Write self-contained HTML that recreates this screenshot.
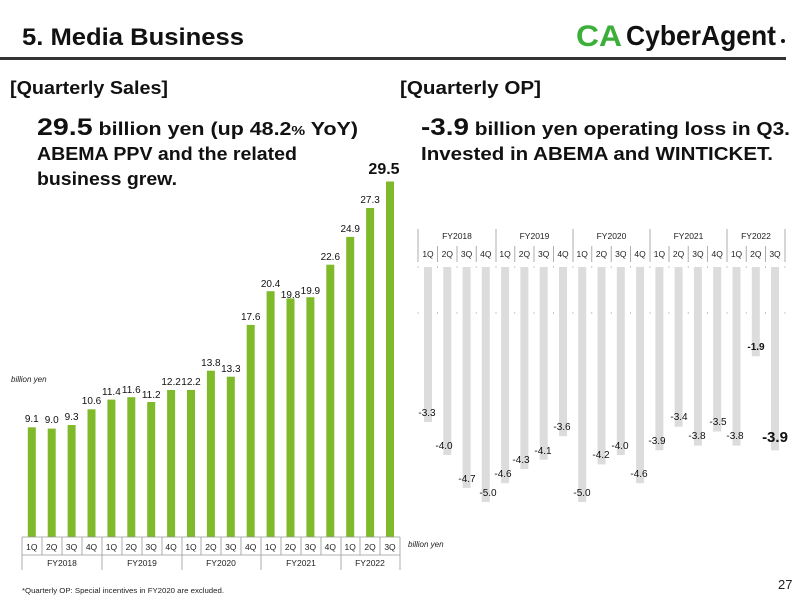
<!DOCTYPE html>
<html><head><meta charset="utf-8"><style>
html,body{margin:0;padding:0;background:#fff;}
svg{display:block;font-family:"Liberation Sans",sans-serif;}
</style></head><body>
<svg width="800" height="600" viewBox="0 0 800 600" xmlns="http://www.w3.org/2000/svg">
<rect width="800" height="600" fill="#fff"/>
<!-- header -->
<text x="22" y="45" font-size="24" font-weight="bold" fill="#111" textLength="222" lengthAdjust="spacingAndGlyphs">5. Media Business</text>
<rect x="0" y="57" width="786" height="3" fill="#333"/>
<text x="576" y="46" font-size="30" font-weight="bold" fill="#3cae3a" textLength="46" lengthAdjust="spacingAndGlyphs">CA</text>
<text x="626" y="45" font-size="28" font-weight="bold" fill="#111" textLength="150" lengthAdjust="spacingAndGlyphs">CyberAgent</text>
<circle cx="783" cy="41" r="2" fill="#111"/>
<!-- section titles -->
<text x="10" y="94" font-size="18" font-weight="bold" fill="#111" textLength="158" lengthAdjust="spacingAndGlyphs">[Quarterly Sales]</text>
<text x="400" y="94" font-size="18" font-weight="bold" fill="#111" textLength="141" lengthAdjust="spacingAndGlyphs">[Quarterly OP]</text>
<text x="37" y="135" font-weight="bold" fill="#111" textLength="321" lengthAdjust="spacingAndGlyphs"><tspan font-size="24">29.5</tspan><tspan font-size="18"> billion yen (up 48.2</tspan><tspan font-size="13">%</tspan><tspan font-size="18"> YoY)</tspan></text>
<text x="37" y="160" font-size="18" font-weight="bold" fill="#111" textLength="260" lengthAdjust="spacingAndGlyphs">ABEMA PPV and the related</text>
<text x="37" y="185" font-size="18" font-weight="bold" fill="#111" textLength="140" lengthAdjust="spacingAndGlyphs">business grew.</text>
<text x="421" y="135" font-weight="bold" fill="#111" textLength="369" lengthAdjust="spacingAndGlyphs"><tspan font-size="24">-3.9</tspan><tspan font-size="18"> billion yen operating loss in Q3.</tspan></text>
<text x="421" y="160" font-size="18" font-weight="bold" fill="#111" textLength="352" lengthAdjust="spacingAndGlyphs">Invested in ABEMA and WINTICKET.</text>

<!-- LEFT CHART -->
<g fill="#7fba2a">
<rect x="27.8" y="427.3" width="8" height="109.7"/>
<rect x="47.7" y="428.6" width="8" height="108.4"/>
<rect x="67.6" y="425.0" width="8" height="112"/>
<rect x="87.5" y="409.3" width="8" height="127.7"/>
<rect x="107.4" y="399.6" width="8" height="137.4"/>
<rect x="127.3" y="397.2" width="8" height="139.8"/>
<rect x="147.2" y="402.0" width="8" height="135"/>
<rect x="167.1" y="390.0" width="8" height="147"/>
<rect x="187.0" y="390.0" width="8" height="147"/>
<rect x="206.9" y="370.7" width="8" height="166.3"/>
<rect x="226.8" y="376.7" width="8" height="160.3"/>
<rect x="246.7" y="324.9" width="8" height="212.1"/>
<rect x="266.6" y="291.2" width="8" height="245.8"/>
<rect x="286.5" y="298.4" width="8" height="238.6"/>
<rect x="306.4" y="297.2" width="8" height="239.8"/>
<rect x="326.3" y="264.7" width="8" height="272.3"/>
<rect x="346.2" y="236.9" width="8" height="300.1"/>
<rect x="366.1" y="208.0" width="8" height="329"/>
<rect x="386.0" y="181.5" width="8" height="355.5"/>
</g>
<g font-size="10" fill="#111" text-anchor="middle">
<text x="31.8" y="422">9.1</text>
<text x="51.7" y="423">9.0</text>
<text x="71.6" y="420">9.3</text>
<text x="91.5" y="404">10.6</text>
<text x="111.4" y="395">11.4</text>
<text x="131.3" y="393">11.6</text>
<text x="151.2" y="398">11.2</text>
<text x="171.1" y="385">12.2</text>
<text x="191.0" y="385">12.2</text>
<text x="210.9" y="366">13.8</text>
<text x="230.8" y="372">13.3</text>
<text x="250.7" y="320">17.6</text>
<text x="270.6" y="287">20.4</text>
<text x="290.5" y="298">19.8</text>
<text x="310.4" y="294">19.9</text>
<text x="330.3" y="260">22.6</text>
<text x="350.2" y="232">24.9</text>
<text x="370.1" y="203">27.3</text>
<text x="384" y="174" font-size="16" font-weight="bold">29.5</text>
</g>
<text x="11" y="382" font-size="8" font-style="italic" fill="#222">billion yen</text>
<!-- left axis table -->
<g stroke="#999" stroke-width="0.8">
<line x1="22" y1="537" x2="400" y2="537"/>
<line x1="22" y1="537" x2="22" y2="570"/>
<line x1="102" y1="537" x2="102" y2="570"/>
<line x1="182" y1="537" x2="182" y2="570"/>
<line x1="261" y1="537" x2="261" y2="570"/>
<line x1="341" y1="537" x2="341" y2="570"/>
<line x1="400" y1="537" x2="400" y2="570"/>
<line x1="22" y1="555" x2="400" y2="555"/>
<line x1="42" y1="537" x2="42" y2="555"/><line x1="62" y1="537" x2="62" y2="555"/><line x1="82" y1="537" x2="82" y2="555"/>
<line x1="122" y1="537" x2="122" y2="555"/><line x1="142" y1="537" x2="142" y2="555"/><line x1="162" y1="537" x2="162" y2="555"/>
<line x1="201" y1="537" x2="201" y2="555"/><line x1="221" y1="537" x2="221" y2="555"/><line x1="241" y1="537" x2="241" y2="555"/>
<line x1="281" y1="537" x2="281" y2="555"/><line x1="301" y1="537" x2="301" y2="555"/><line x1="321" y1="537" x2="321" y2="555"/>
<line x1="360" y1="537" x2="360" y2="555"/><line x1="380" y1="537" x2="380" y2="555"/>
</g>
<g font-size="8.5" fill="#222" text-anchor="middle">
<text x="31.8" y="550">1Q</text><text x="51.7" y="550">2Q</text><text x="71.6" y="550">3Q</text><text x="91.5" y="550">4Q</text>
<text x="111.4" y="550">1Q</text><text x="131.3" y="550">2Q</text><text x="151.2" y="550">3Q</text><text x="171.1" y="550">4Q</text>
<text x="191.0" y="550">1Q</text><text x="210.9" y="550">2Q</text><text x="230.8" y="550">3Q</text><text x="250.7" y="550">4Q</text>
<text x="270.6" y="550">1Q</text><text x="290.5" y="550">2Q</text><text x="310.4" y="550">3Q</text><text x="330.3" y="550">4Q</text>
<text x="350.2" y="550">1Q</text><text x="370.1" y="550">2Q</text><text x="390.0" y="550">3Q</text>
<text x="62" y="566">FY2018</text><text x="142" y="566">FY2019</text><text x="221" y="566">FY2020</text><text x="301" y="566">FY2021</text><text x="370" y="566">FY2022</text>
</g>

<!-- RIGHT CHART -->
<g stroke="#999" stroke-width="0.8">
<line x1="418" y1="229" x2="418" y2="262"/>
<line x1="496" y1="229" x2="496" y2="262"/>
<line x1="573" y1="229" x2="573" y2="262"/>
<line x1="650" y1="229" x2="650" y2="262"/>
<line x1="727" y1="229" x2="727" y2="262"/>
<line x1="785" y1="229" x2="785" y2="262"/>
<line x1="437.6" y1="246" x2="437.6" y2="262"/><line x1="457" y1="246" x2="457" y2="262"/><line x1="476.2" y1="246" x2="476.2" y2="262"/>
<line x1="514.8" y1="246" x2="514.8" y2="262"/><line x1="534" y1="246" x2="534" y2="262"/><line x1="553.4" y1="246" x2="553.4" y2="262"/>
<line x1="591.8" y1="246" x2="591.8" y2="262"/><line x1="611.2" y1="246" x2="611.2" y2="262"/><line x1="630.4" y1="246" x2="630.4" y2="262"/>
<line x1="669" y1="246" x2="669" y2="262"/><line x1="688.2" y1="246" x2="688.2" y2="262"/><line x1="707.6" y1="246" x2="707.6" y2="262"/>
<line x1="746.2" y1="246" x2="746.2" y2="262"/><line x1="765.4" y1="246" x2="765.4" y2="262"/>
</g>
<g stroke="#bbb" stroke-width="0.8">
<line x1="418" y1="266" x2="418" y2="268"/><line x1="437.6" y1="266" x2="437.6" y2="268"/><line x1="457" y1="266" x2="457" y2="268"/><line x1="476.2" y1="266" x2="476.2" y2="268"/><line x1="496" y1="266" x2="496" y2="268"/><line x1="514.8" y1="266" x2="514.8" y2="268"/><line x1="534" y1="266" x2="534" y2="268"/><line x1="553.4" y1="266" x2="553.4" y2="268"/><line x1="573" y1="266" x2="573" y2="268"/><line x1="591.8" y1="266" x2="591.8" y2="268"/><line x1="611.2" y1="266" x2="611.2" y2="268"/><line x1="630.4" y1="266" x2="630.4" y2="268"/><line x1="650" y1="266" x2="650" y2="268"/><line x1="669" y1="266" x2="669" y2="268"/><line x1="688.2" y1="266" x2="688.2" y2="268"/><line x1="707.6" y1="266" x2="707.6" y2="268"/><line x1="727" y1="266" x2="727" y2="268"/><line x1="746.2" y1="266" x2="746.2" y2="268"/><line x1="765.4" y1="266" x2="765.4" y2="268"/><line x1="785" y1="266" x2="785" y2="268"/>
<line x1="418" y1="312" x2="418" y2="314"/><line x1="437.6" y1="312" x2="437.6" y2="314"/><line x1="457" y1="312" x2="457" y2="314"/><line x1="476.2" y1="312" x2="476.2" y2="314"/><line x1="496" y1="312" x2="496" y2="314"/><line x1="514.8" y1="312" x2="514.8" y2="314"/><line x1="534" y1="312" x2="534" y2="314"/><line x1="553.4" y1="312" x2="553.4" y2="314"/><line x1="573" y1="312" x2="573" y2="314"/><line x1="591.8" y1="312" x2="591.8" y2="314"/><line x1="611.2" y1="312" x2="611.2" y2="314"/><line x1="630.4" y1="312" x2="630.4" y2="314"/><line x1="650" y1="312" x2="650" y2="314"/><line x1="669" y1="312" x2="669" y2="314"/><line x1="688.2" y1="312" x2="688.2" y2="314"/><line x1="707.6" y1="312" x2="707.6" y2="314"/><line x1="727" y1="312" x2="727" y2="314"/><line x1="746.2" y1="312" x2="746.2" y2="314"/><line x1="765.4" y1="312" x2="765.4" y2="314"/><line x1="785" y1="312" x2="785" y2="314"/>
</g>
<g font-size="8.5" fill="#222" text-anchor="middle">
<text x="457" y="239">FY2018</text><text x="534.5" y="239">FY2019</text><text x="611.5" y="239">FY2020</text><text x="688.5" y="239">FY2021</text><text x="756" y="239">FY2022</text>
<text x="428.0" y="257">1Q</text><text x="447.3" y="257">2Q</text><text x="466.6" y="257">3Q</text><text x="485.8" y="257">4Q</text>
<text x="505.1" y="257">1Q</text><text x="524.4" y="257">2Q</text><text x="543.7" y="257">3Q</text><text x="563.0" y="257">4Q</text>
<text x="582.2" y="257">1Q</text><text x="601.5" y="257">2Q</text><text x="620.8" y="257">3Q</text><text x="640.1" y="257">4Q</text>
<text x="659.4" y="257">1Q</text><text x="678.6" y="257">2Q</text><text x="697.9" y="257">3Q</text><text x="717.2" y="257">4Q</text>
<text x="736.5" y="257">1Q</text><text x="755.8" y="257">2Q</text><text x="775.0" y="257">3Q</text>
</g>
<g fill="#dcdcdc">
<rect x="424.0" y="267" width="8" height="155.1"/>
<rect x="443.3" y="267" width="8" height="188"/>
<rect x="462.6" y="267" width="8" height="220.9"/>
<rect x="481.8" y="267" width="8" height="235"/>
<rect x="501.1" y="267" width="8" height="216.2"/>
<rect x="520.4" y="267" width="8" height="202.1"/>
<rect x="539.7" y="267" width="8" height="192.7"/>
<rect x="559.0" y="267" width="8" height="169.2"/>
<rect x="578.2" y="267" width="8" height="235"/>
<rect x="597.5" y="267" width="8" height="197.4"/>
<rect x="616.8" y="267" width="8" height="188"/>
<rect x="636.1" y="267" width="8" height="216.2"/>
<rect x="655.4" y="267" width="8" height="183.3"/>
<rect x="674.6" y="267" width="8" height="159.8"/>
<rect x="693.9" y="267" width="8" height="178.6"/>
<rect x="713.2" y="267" width="8" height="164.5"/>
<rect x="732.5" y="267" width="8" height="178.6"/>
<rect x="751.8" y="267" width="8" height="89.3"/>
<rect x="771.0" y="267" width="8" height="183.3"/>
</g>
<g font-size="10" fill="#111" text-anchor="middle">
<text x="427" y="416">-3.3</text>
<text x="444" y="449">-4.0</text>
<text x="467" y="482">-4.7</text>
<text x="488" y="496">-5.0</text>
<text x="503" y="477">-4.6</text>
<text x="521" y="463">-4.3</text>
<text x="543" y="454">-4.1</text>
<text x="562" y="430">-3.6</text>
<text x="582" y="496">-5.0</text>
<text x="601" y="458">-4.2</text>
<text x="620" y="449">-4.0</text>
<text x="639" y="477">-4.6</text>
<text x="657" y="444">-3.9</text>
<text x="679" y="420">-3.4</text>
<text x="697" y="439">-3.8</text>
<text x="718" y="425">-3.5</text>
<text x="735" y="439">-3.8</text>
<text x="756" y="350" font-weight="bold">-1.9</text>
<text x="775" y="442" font-size="15" font-weight="bold">-3.9</text>
</g>
<text x="408" y="547" font-size="8" font-style="italic" fill="#222">billion yen</text>

<!-- footer -->
<text x="22" y="593" font-size="7" fill="#222" textLength="202" lengthAdjust="spacingAndGlyphs">*Quarterly OP: Special incentives in FY2020 are excluded.</text>
<text x="778" y="589" font-size="13" fill="#222">27</text>
</svg>
</body></html>
